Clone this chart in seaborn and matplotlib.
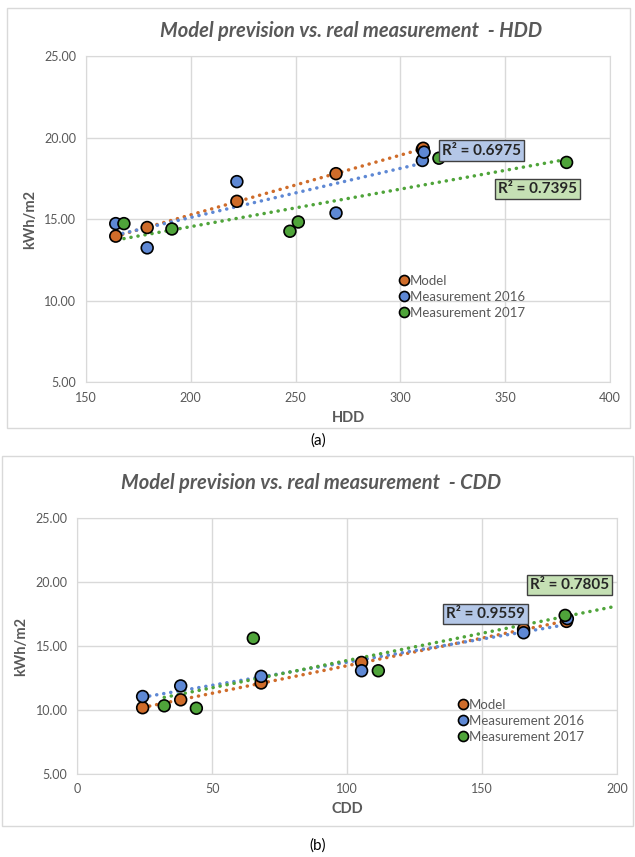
import numpy as np
import pandas as pd
import seaborn as sns
import matplotlib.pyplot as plt
from matplotlib.patches import Rectangle

# values
series = ['Model', 'Measurement 2016', 'Measurement 2017']

hdd_model = [164.2, 179.2, 222.0, 269.3, 310.5, 310.9]
kwh_hdd_model = [13.96, 14.49, 16.10, 17.80, 19.30, 19.36]
hdd_2016 = [164.2, 179.2, 222.0, 269.3, 310.5, 311.3]
kwh_hdd_2016 = [14.73, 13.24, 17.31, 15.38, 18.61, 19.12]
hdd_2017 = [168.1, 191.0, 247.3, 251.3, 318.4, 379.3]
kwh_hdd_2017 = [14.73, 14.40, 14.26, 14.83, 18.75, 18.49]

cdd_model = [24.2, 38.3, 68.1, 105.3, 165.3, 181.2]
kwh_cdd_model = [10.16, 10.78, 12.10, 13.71, 16.31, 16.93]
cdd_2016 = [24.2, 38.3, 68.1, 105.3, 165.3, 181.5]
kwh_cdd_2016 = [11.04, 11.87, 12.62, 13.06, 16.04, 17.15]
cdd_2017 = [32.2, 44.1, 65.2, 111.5, 180.7]
kwh_cdd_2017 = [10.31, 10.12, 15.61, 13.06, 17.40]

r2_hdd = ['0.6975', '0.7395']
r2_cdd = ['0.9559', '0.7805']

hdd_ticks = [150, 200, 250, 300, 350, 400]
cdd_ticks = [0, 50, 100, 150, 200]
kwh_ticks = [5, 10, 15, 20, 25]

colors = {'Model': '#CF6C2A', 'Measurement 2016': '#5E88D4', 'Measurement 2017': '#4FA43A'}
grey = '#595959'

sns.set_style('white')
plt.rcParams['font.family'] = ['Lato', 'DejaVu Sans']


def make_df(xs, ys):
    frames = []
    for name, x, y in zip(series, xs, ys):
        frames.append(pd.DataFrame({'x': x, 'y': y, 'series': name}))
    return pd.concat(frames, ignore_index=True)


def draw_chart(ax, df, xticks, xlabel, r2_text, r2_pos, ends):
    # dotted linear trendlines (Excel style)
    for name in series:
        d = df[df['series'] == name]
        k, b = np.polyfit(d['x'], d['y'], 1)
        x0, x1 = d['x'].min(), ends.get(name, d['x'].max())
        ax.plot([x0, x1], [k * x0 + b, k * x1 + b], color=colors[name], lw=2.5,
                linestyle=(0, (0.05, 2.0)), dash_capstyle='round', zorder=2)
    sns.scatterplot(data=df, x='x', y='y', hue='series', palette=colors, s=72,
                    edgecolor='black', linewidth=1.2, ax=ax, zorder=3)
    ax.set_xlim(xticks[0], xticks[-1])
    ax.set_ylim(5, 25)
    ax.set_xticks(xticks)
    ax.set_yticks(kwh_ticks)
    ax.set_yticklabels(['%.2f' % v for v in kwh_ticks])
    ax.grid(True, color='#d9d9d9', lw=1)
    for s in ax.spines.values():
        s.set_color('#d9d9d9')
    ax.tick_params(length=0, labelsize=9, colors=grey, pad=7)
    ax.set_xlabel(xlabel, fontsize=10.5, fontweight='bold', color=grey, labelpad=5)
    ax.set_ylabel('kWh/m2', fontsize=10.5, fontweight='bold', color=grey, labelpad=5)
    box_cols = ['#B4C7E7', '#C5E0B4']
    for txt, pos, bc in zip(r2_text, r2_pos, box_cols):
        ax.text(pos[0], pos[1], 'R² = ' + txt, ha='center', va='center', fontsize=11,
                fontweight='bold', color='#262626', zorder=5,
                bbox=dict(boxstyle='square,pad=0.2', fc=bc, ec='#404040', lw=1))


fig = plt.figure(figsize=(6.35, 8.57), dpi=100)

ax1 = fig.add_axes([0.1354, 0.5543, 0.8252, 0.3798])
df1 = make_df([hdd_model, hdd_2016, hdd_2017], [kwh_hdd_model, kwh_hdd_2016, kwh_hdd_2017])
draw_chart(ax1, df1, hdd_ticks, 'HDD', r2_hdd, [(338.9, 19.22), (365.6, 16.83)], {})

ax2 = fig.add_axes([0.1217, 0.0974, 0.8504, 0.2976])
df2 = make_df([cdd_model, cdd_2016, cdd_2017], [kwh_cdd_model, kwh_cdd_2016, kwh_cdd_2017])
draw_chart(ax2, df2, cdd_ticks, 'CDD', r2_cdd, [(151.2, 17.54), (182.3, 19.77)],
           {'Measurement 2017': 198})

for ax, anchor in [(ax1, (0.631, 0.679)), (ax2, (0.724, 0.1845))]:
    h, l = ax.get_legend_handles_labels()
    ax.legend(h, l, loc='upper left', bbox_to_anchor=anchor, bbox_transform=fig.transFigure,
              frameon=False, fontsize=9.5, handlelength=0.5, handletextpad=0.2, markerscale=0.85,
              labelspacing=0.3, borderpad=0, borderaxespad=0, labelcolor=grey)

fig.text(351 / 635, 1 - 31 / 857, 'Model prevision vs. real measurement  - HDD', ha='center',
         va='center', fontsize=14.5, fontweight='bold', style='italic', color=grey)
fig.text(311 / 635, 1 - 483 / 857, 'Model prevision vs. real measurement  - CDD', ha='center',
         va='center', fontsize=14.5, fontweight='bold', style='italic', color=grey)
fig.text(318 / 635, 1 - 441 / 857, '(a)', ha='center', va='center', fontsize=11, color='black')
fig.text(318 / 635, 1 - 846 / 857, '(b)', ha='center', va='center', fontsize=11, color='black')

fig.patches.append(Rectangle((7 / 635, 1 - 428 / 857), 623 / 635, 420 / 857, fill=False,
                             ec='#d9d9d9', lw=1, transform=fig.transFigure))
fig.patches.append(Rectangle((2 / 635, 1 - 826 / 857), 631 / 635, 370 / 857, fill=False,
                             ec='#d9d9d9', lw=1, transform=fig.transFigure))

fig.savefig('out.png', dpi=100)
